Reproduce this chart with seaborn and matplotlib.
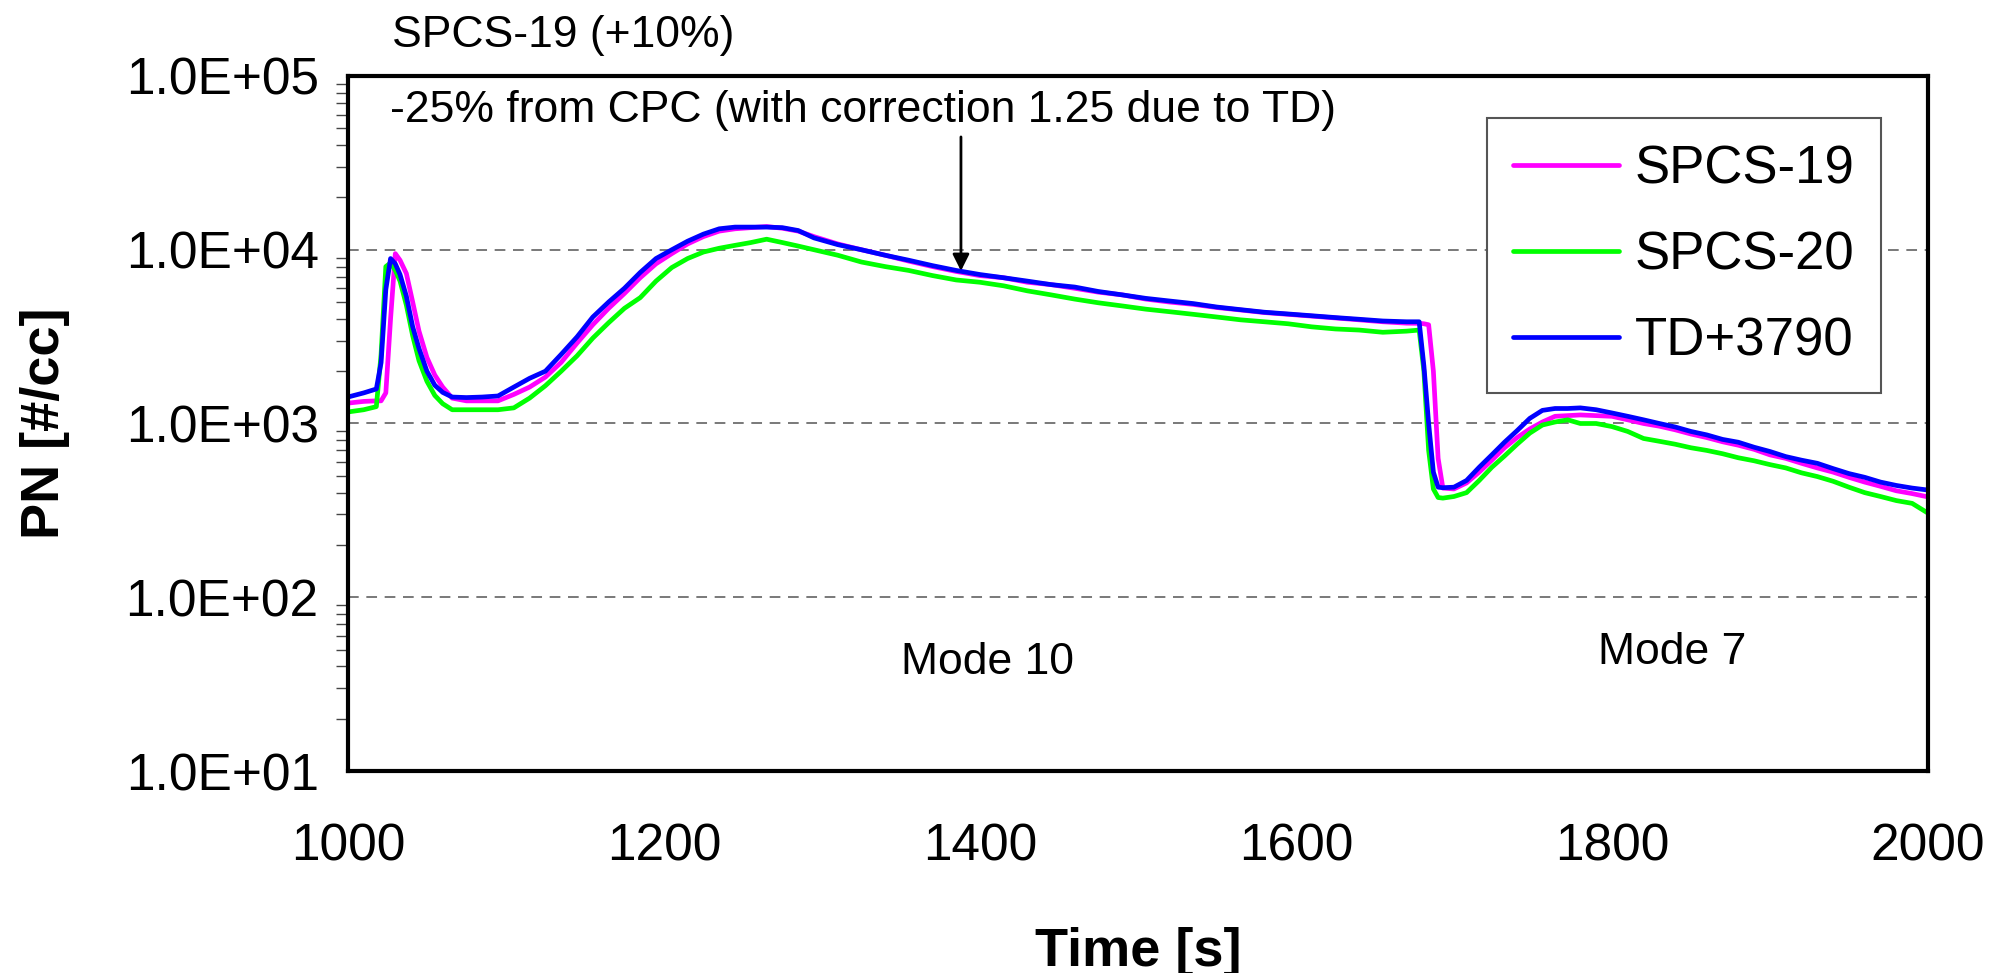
import matplotlib
matplotlib.use('Agg')
import matplotlib.pyplot as plt
import pandas as pd
import seaborn as sns
from matplotlib.lines import Line2D
from matplotlib.ticker import FuncFormatter, LogLocator, NullFormatter, FixedLocator

# ---------------- data ----------------
time_s = [1000, 1010, 1018, 1021, 1024, 1027, 1030, 1033, 1037, 1041,
          1045, 1050, 1055, 1060, 1066, 1075, 1085, 1095, 1105, 1115,
          1125, 1135, 1145, 1155, 1165, 1175, 1185, 1195, 1205, 1215,
          1225, 1235, 1245, 1255, 1265, 1275, 1285, 1295, 1310, 1325,
          1340, 1355, 1370, 1385, 1400, 1415, 1430, 1445, 1460, 1475,
          1490, 1505, 1520, 1535, 1550, 1565, 1580, 1595, 1610, 1625,
          1640, 1655, 1670, 1678, 1681, 1684, 1687, 1690, 1693, 1700,
          1708, 1716, 1724, 1732, 1740, 1748, 1756, 1764, 1772, 1780,
          1790, 1800, 1810, 1820, 1830, 1840, 1850, 1860, 1870, 1880,
          1890, 1900, 1910, 1920, 1930, 1940, 1950, 1960, 1970, 1980,
          1990, 2000]

spcs19 = [1310, 1340, 1350, 1350, 1500, 4000, 9500, 8700, 7300, 5000,
          3400, 2400, 1900, 1620, 1400, 1350, 1350, 1350, 1470, 1620,
          1850, 2250, 2900, 3700, 4600, 5600, 6900, 8300, 9500, 10800,
          11900, 12800, 13200, 13400, 13600, 13300, 12800, 11900, 10800, 10000,
          9300, 8600, 8000, 7500, 7100, 6900, 6500, 6300, 6000, 5700,
          5500, 5200, 5000, 4850, 4650, 4500, 4350, 4250, 4150, 4050,
          3950, 3850, 3780, 3770, 3750, 3700, 2000, 630, 425, 420,
          455, 525, 615, 725, 830, 930, 1020, 1100, 1110, 1120,
          1110, 1100, 1050, 1000, 965, 920, 870, 830, 785, 750,
          710, 660, 630, 590, 555, 525, 490, 460, 435, 410,
          395, 378]

spcs20 = [1165, 1200, 1250, 2500, 8000, 8400, 7600, 6600, 4800, 3200,
          2300, 1750, 1450, 1300, 1200, 1200, 1200, 1200, 1230, 1400,
          1650, 2000, 2450, 3100, 3800, 4600, 5300, 6600, 7900, 8900,
          9700, 10200, 10600, 11000, 11500, 11000, 10500, 10000, 9300, 8500,
          8000, 7600, 7100, 6700, 6500, 6200, 5800, 5500, 5200, 4950,
          4750, 4550, 4400, 4250, 4100, 3950, 3850, 3750, 3600, 3500,
          3450, 3350, 3400, 3450, 2000, 700, 420, 375, 372, 380,
          400, 470, 560, 650, 760, 880, 980, 1020, 1050, 1000,
          1000, 960, 900, 820, 790, 760, 725, 700, 670, 635,
          610, 580, 555, 520, 495, 465, 430, 400, 380, 360,
          347, 305]

td3790 = [1420, 1500, 1580, 2240, 5900, 8900, 8300, 7200, 5400, 3600,
          2700, 2000, 1660, 1510, 1420, 1410, 1420, 1440, 1620, 1820,
          2000, 2500, 3150, 4100, 5000, 6000, 7400, 8900, 10000, 11200,
          12300, 13200, 13500, 13500, 13500, 13400, 12900, 11700, 10700, 10000,
          9300, 8700, 8100, 7600, 7200, 6900, 6600, 6300, 6100, 5750,
          5500, 5250, 5070, 4900, 4680, 4520, 4370, 4270, 4170, 4070,
          3980, 3890, 3850, 3850, 2140, 1000, 525, 430, 427, 430,
          470, 560, 660, 780, 910, 1070, 1190, 1220, 1220, 1230,
          1200, 1150, 1100, 1050, 1000, 955, 900, 860, 810, 780,
          730, 690, 645, 615, 590, 550, 515, 490, 460, 440,
          425, 414]

series_names = ['SPCS-19', 'SPCS-20', 'TD+3790']
series_colors = ['#FF00FF', '#00FF00', '#0000FF']
x_ticks = [1000, 1200, 1400, 1600, 1800, 2000]
y_ticks = [1e1, 1e2, 1e3, 1e4, 1e5]

# ---------------- style ----------------
sns.set_style('white')
plt.rcParams['font.family'] = ['Liberation Sans', 'DejaVu Sans']
plt.rcParams['text.color'] = 'black'
plt.rcParams['axes.labelcolor'] = 'black'
narrow = ['Liberation Sans Narrow', 'Liberation Sans', 'DejaVu Sans']
note_size = 32

df = pd.DataFrame({
    'Time': time_s * 3,
    'PN': spcs19 + spcs20 + td3790,
    'Series': [n for n in series_names for _ in time_s],
})

fig = plt.figure(figsize=(19.96, 9.73), dpi=100)
ax = fig.add_axes([0.1743, 0.2076, 0.7916, 0.7143])

sns.lineplot(data=df, x='Time', y='PN', hue='Series', hue_order=series_names,
             palette=dict(zip(series_names, series_colors)), linewidth=3.4,
             estimator=None, sort=False, legend=False, ax=ax)

ax.set_yscale('log')
ax.set_xlim(1000, 2000)
ax.set_ylim(10, 1e5)

ax.xaxis.set_major_locator(FixedLocator(x_ticks))
ax.yaxis.set_major_locator(FixedLocator(y_ticks))
ax.yaxis.set_minor_locator(LogLocator(base=10, subs=[2, 3, 4, 5, 6, 7, 8, 9]))
ax.yaxis.set_minor_formatter(NullFormatter())
ax.yaxis.set_major_formatter(FuncFormatter(lambda v, p: f"{v:.1E}"))

ax.tick_params(axis='both', which='major', direction='out', length=12, width=1,
               color='#444444', labelcolor='black', labelsize=37)
ax.tick_params(axis='y', which='major', pad=9)
ax.tick_params(axis='x', which='major', pad=25)
ax.tick_params(axis='y', which='minor', direction='out', length=9, width=1,
               color='#444444', left=True)
ax.tick_params(axis='x', which='minor', bottom=False)

for sp in ax.spines.values():
    sp.set_visible(True)
    sp.set_color('black')
    sp.set_linewidth(3)

ax.grid(False)
for yv in y_ticks[1:-1]:
    ax.axhline(yv, color='#555555', linewidth=1.1, linestyle=(0, (7, 5)), zorder=0)

ax.set_xlabel('Time [s]', fontsize=39, fontweight='bold', labelpad=40)
ax.set_ylabel('PN [#/cc]', fontsize=39, fontweight='bold', labelpad=40)

# annotations
ax.text(1028, 1.7e5, 'SPCS-19 (+10%)', fontsize=note_size, family=narrow,
        ha='left', va='center')
ax.text(1026.6, 6.3e4, '-25% from CPC (with correction 1.25 due to TD)',
        fontsize=note_size, family=narrow, ha='left', va='center')
ax.annotate('', xy=(1388, 7550), xytext=(1388, 44600),
            arrowprops=dict(arrowstyle='-|>', color='black', lw=2,
                            mutation_scale=25, shrinkA=0, shrinkB=0))
ax.text(1350, 42, 'Mode 10', fontsize=note_size, family=narrow, ha='left', va='center')
ax.text(1791, 48.4, 'Mode 7', fontsize=note_size, family=narrow, ha='left', va='center')

handles = [Line2D([0], [0], color=c, lw=3.4) for c in series_colors]
leg = ax.legend(handles, series_names, loc='upper left',
                bbox_to_anchor=(0.721, 0.9396), fontsize=38, frameon=True,
                fancybox=False, shadow=False, handlelength=2.0,
                handletextpad=0.3, labelspacing=0.68, borderpad=0.5,
                borderaxespad=0)
leg.get_frame().set_edgecolor('#555555')
leg.get_frame().set_linewidth(1.5)
leg.get_frame().set_alpha(1)

fig.savefig('out.png', dpi=100)
